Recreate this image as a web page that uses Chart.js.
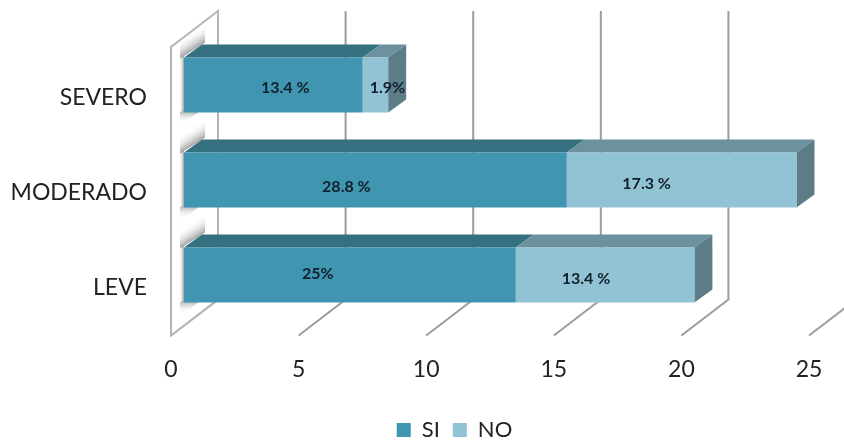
<!DOCTYPE html>
<html>
<head>
<meta charset="utf-8">
<style>
  html, body { margin: 0; padding: 0; background: #fff; }
  #wrap { width: 844px; height: 442px; }
  /* the source image is a soft upscale */
  canvas { filter: blur(0.4px); }
</style>
<script src="https://cdn.jsdelivr.net/npm/chart.js@4"></script>
</head>
<body>
<div id="wrap"><canvas id="chart" width="844" height="442"></canvas></div>
<script>
const CATEGORIES = ['SEVERO', 'MODERADO', 'LEVE'];
const SI_VALUES = [7, 15, 13];
const NO_VALUES = [1, 9, 7];
const SI_LABELS = ['13.4 %', '28.8 %', '25%'];
const NO_LABELS = ['1.9%', '17.3 %', '13.4 %'];

const FONT = 'Lato, "Open Sans", sans-serif';
const WALL = { dx: 47, dy: 36, front: 13, floor: 335.5, top: 47 };
const BAR_DEPTH = { dx: 18, dy: 13 };
const LEGEND_SHIFT = { x: 43.5, y: 9 };
// hand placed labels in the original, so nudged from the bar centres
const LABEL_NUDGE = [
  [[12, 3], [12, 3]],
  [[-29, 7], [-35, 4]],
  [[-32, -1], [-19, 4]],
];

const face = (ctx, pts, color) => {
  ctx.fillStyle = color;
  ctx.beginPath();
  pts.forEach(([x, y], i) => (i ? ctx.lineTo(x, y) : ctx.moveTo(x, y)));
  ctx.closePath();
  ctx.fill();
};

const shade = (ctx, x1, y1, x2, y2) => {
  const g = ctx.createLinearGradient(x1, y1, x2, y2);
  g.addColorStop(0, '#9a9a9a');
  g.addColorStop(1, 'rgba(255,255,255,0)');
  return g;
};

const backdrop = {
  id: 'backdrop',
  afterLayout(chart) {
    const l = chart.legend;
    l.left += LEGEND_SHIFT.x;
    l.right += LEGEND_SHIFT.x;
    l.top += LEGEND_SHIFT.y;
    l.bottom += LEGEND_SHIFT.y;
  },
  beforeDatasetsDraw(chart) {
    const { ctx, scales: { x } } = chart;
    const { dx, dy } = BAR_DEPTH;
    const x0 = x.getPixelForValue(0) - WALL.front;
    const wall = [
      [x0, WALL.floor],
      [x0, WALL.top],
      [x0 + WALL.dx, WALL.top - WALL.dy],
      [x0 + WALL.dx, WALL.floor - WALL.dy],
    ];
    ctx.save();
    // gridlines: back wall plus floor
    ctx.strokeStyle = '#9c9c9c';
    ctx.lineWidth = 2;
    x.ticks.forEach((t) => {
      const fx = x.getPixelForValue(t.value) - WALL.front;
      ctx.beginPath();
      ctx.moveTo(fx, WALL.floor);
      ctx.lineTo(fx + WALL.dx, WALL.floor - WALL.dy);
      ctx.lineTo(fx + WALL.dx, WALL.top - WALL.dy);
      ctx.stroke();
    });
    // left wall with the soft bar shadows on it
    face(ctx, wall, '#fff');
    ctx.save();
    ctx.beginPath();
    wall.forEach(([px, py], i) => (i ? ctx.lineTo(px, py) : ctx.moveTo(px, py)));
    ctx.closePath();
    ctx.clip();
    chart.getDatasetMeta(0).data.forEach((bar) => {
      const top = bar.y - bar.height / 2;
      const bottom = top + bar.height;
      const b = bar.base;
      face(ctx, [[b - 5, top - 2], [b, top - 2], [b, bottom], [b - 5, bottom]], shade(ctx, b, 0, b - 5, 0));
      face(ctx, [[b - 4, top + 1], [b + dx + 3, top - dy - 2], [b + dx + 3, top - dy - 24], [b - 4, top - 18]],
        shade(ctx, b + dx / 2, top - dy / 2, b + dx / 2 - 9, top - dy / 2 - 14));
      face(ctx, [[b - 4, bottom], [b + dx, bottom - dy], [b + dx, bottom - dy + 10], [b - 4, bottom + 14]],
        shade(ctx, b, bottom - 3, b, bottom + 11));
    });
    ctx.restore();
    ctx.strokeStyle = '#b4b4b4';
    ctx.beginPath();
    wall.forEach(([px, py], i) => (i ? ctx.lineTo(px, py) : ctx.moveTo(px, py)));
    ctx.closePath();
    ctx.stroke();
    ctx.restore();
  },
};

const depth = {
  id: 'depth',
  beforeDatasetsDraw(chart) {
    const { ctx } = chart;
    const { dx, dy } = BAR_DEPTH;
    ctx.save();
    // top and end faces of each stack
    chart.data.datasets.forEach((ds, i) => {
      chart.getDatasetMeta(i).data.forEach((bar) => {
        const top = bar.y - bar.height / 2;
        face(ctx, [[bar.base, top], [bar.x, top], [bar.x + dx, top - dy], [bar.base + dx, top - dy]], ds.topColor);
        if (i === chart.data.datasets.length - 1) {
          face(ctx, [[bar.x, top], [bar.x + dx, top - dy], [bar.x + dx, top - dy + bar.height], [bar.x, top + bar.height]], ds.sideColor);
        }
      });
    });
    ctx.restore();
  },
};

const barLabels = {
  id: 'barLabels',
  afterDatasetsDraw(chart) {
    const { ctx } = chart;
    ctx.save();
    ctx.font = 'bold 16px ' + FONT;
    ctx.fillStyle = '#10202a';
    ctx.textAlign = 'center';
    ctx.textBaseline = 'middle';
    chart.data.datasets.forEach((ds, i) => {
      chart.getDatasetMeta(i).data.forEach((bar, j) => {
        const [nx, ny] = LABEL_NUDGE[j][i];
        ctx.fillText(ds.valueLabels[j], (bar.base + bar.x) / 2 + nx, bar.y + ny);
      });
    });
    ctx.restore();
  },
};

new Chart(document.getElementById('chart'), {
  type: 'bar',
  data: {
    labels: CATEGORIES,
    datasets: [
      { label: 'SI', data: SI_VALUES, valueLabels: SI_LABELS, backgroundColor: '#4095B0', topColor: '#347080', sideColor: '#2f6675' },
      { label: 'NO', data: NO_VALUES, valueLabels: NO_LABELS, backgroundColor: '#92C3D5', topColor: '#6C929F', sideColor: '#5C7D88' },
    ],
  },
  options: {
    indexAxis: 'y',
    responsive: false,
    animation: false,
    layout: { padding: { top: 37.5, right: 22, bottom: 0, left: 0 } },
    barPercentage: 1,
    categoryPercentage: 0.58,
    plugins: {
      tooltip: { enabled: false },
      legend: {
        position: 'bottom',
        labels: {
          boxWidth: 14,
          boxHeight: 14,
          padding: 13,
          color: '#222',
          font: { family: FONT, size: 22 },
        },
      },
    },
    scales: {
      x: {
        stacked: true,
        min: 0,
        max: 25,
        grid: { display: false },
        border: { display: false },
        afterFit: (s) => { s.height = 74.5; s.paddingRight = 0; },
        ticks: { stepSize: 5, maxRotation: 0, labelOffset: -13, padding: 25, color: '#222', font: { family: FONT, size: 23 } },
      },
      y: {
        stacked: true,
        grid: { display: false },
        border: { display: false },
        afterFit: (s) => { s.width = 184; s.paddingTop = 0; s.paddingBottom = 0; },
        ticks: { labelOffset: 13, padding: 29, color: '#222', font: { family: FONT, size: 23 } },
      },
    },
  },
  plugins: [backdrop, depth, barLabels],
});
</script>
</body>
</html>
